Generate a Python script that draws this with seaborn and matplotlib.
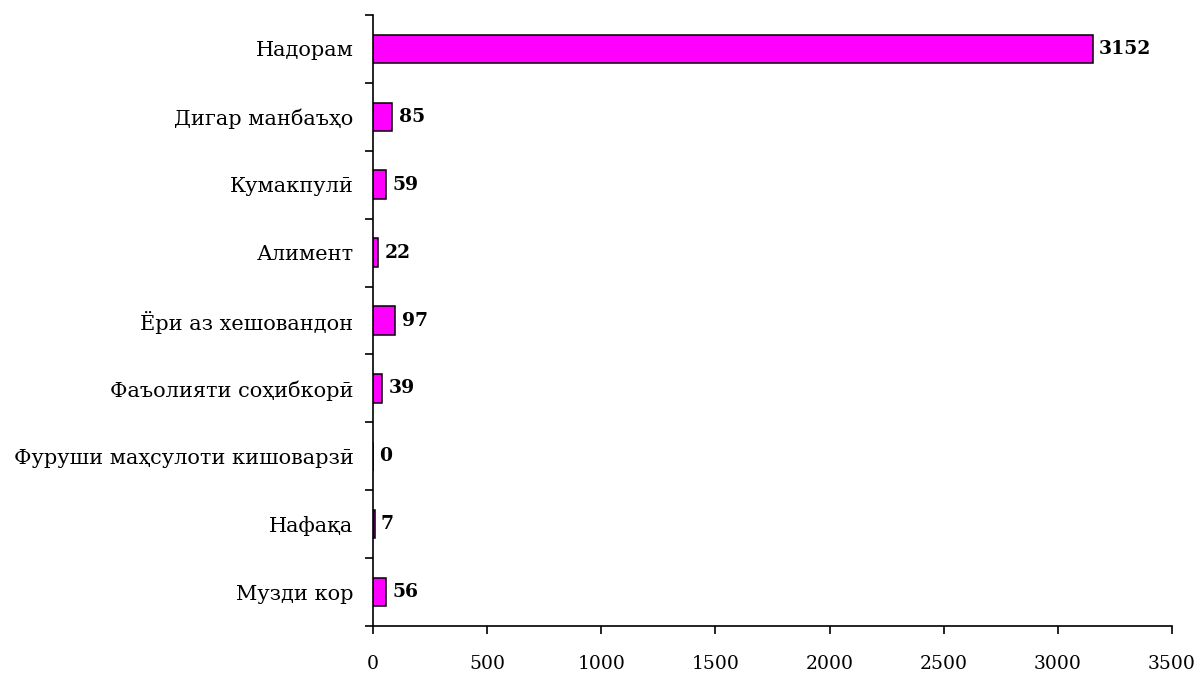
import pandas as pd
import numpy as np
import matplotlib.pyplot as plt
import seaborn as sns

categories = ["Надорам", "Дигар манбаъҳо", "Кумакпулӣ", "Алимент",
              "Ёри аз хешовандон", "Фаъолияти соҳибкорӣ",
              "Фуруши маҳсулоти кишоварзӣ", "Нафақа", "Музди кор"]
values = [3152, 85, 59, 22, 97, 39, 0, 7, 56]
xticks = [0, 500, 1000, 1500, 2000, 2500, 3000, 3500]

sns.set_style("ticks", {"axes.edgecolor": "black", "xtick.color": "black",
                        "ytick.color": "black", "text.color": "black"})
plt.rcParams['font.family'] = ['DejaVu Serif']

df = pd.DataFrame({"cat": categories, "val": values})

fig = plt.figure(figsize=(11.99, 6.75), dpi=100)
ax = fig.add_axes([373 / 1199, 1 - 626 / 675, (1172 - 373) / 1199, (626 - 15) / 675])

sns.barplot(data=df, x="val", y="cat", orient="h", color="#FF00FF",
            saturation=1, edgecolor="black", linewidth=1.1, width=0.42, ax=ax)

for i, v in enumerate(values):
    ax.text(v + 28, i, str(v), va="center", ha="left", fontsize=13.5,
            fontweight="bold", color="black")

ax.set_xlim(0, 3500)
ax.set_ylim(len(categories) - 0.5, -0.5)
ax.set_xticks(xticks)
ax.set_xticklabels([str(t) for t in xticks], fontsize=13.5)

# ticks on the category borders, labels in the middle
ax.set_yticks(np.arange(-0.5, len(categories), 1.0))
ax.set_yticklabels([])
ax.set_yticks(np.arange(len(categories)), minor=True)
ax.set_yticklabels(categories, minor=True, fontsize=15)
ax.tick_params(axis="y", which="minor", length=0, pad=14)
ax.tick_params(axis="y", which="major", length=6, width=1.2, direction="out")
ax.tick_params(axis="x", length=6, width=1.2, direction="out", pad=15)

ax.set_xlabel("")
ax.set_ylabel("")
for s in ["top", "right"]:
    ax.spines[s].set_visible(False)
for s in ["left", "bottom"]:
    ax.spines[s].set_linewidth(1.2)

fig.savefig("out.png", dpi=100)
